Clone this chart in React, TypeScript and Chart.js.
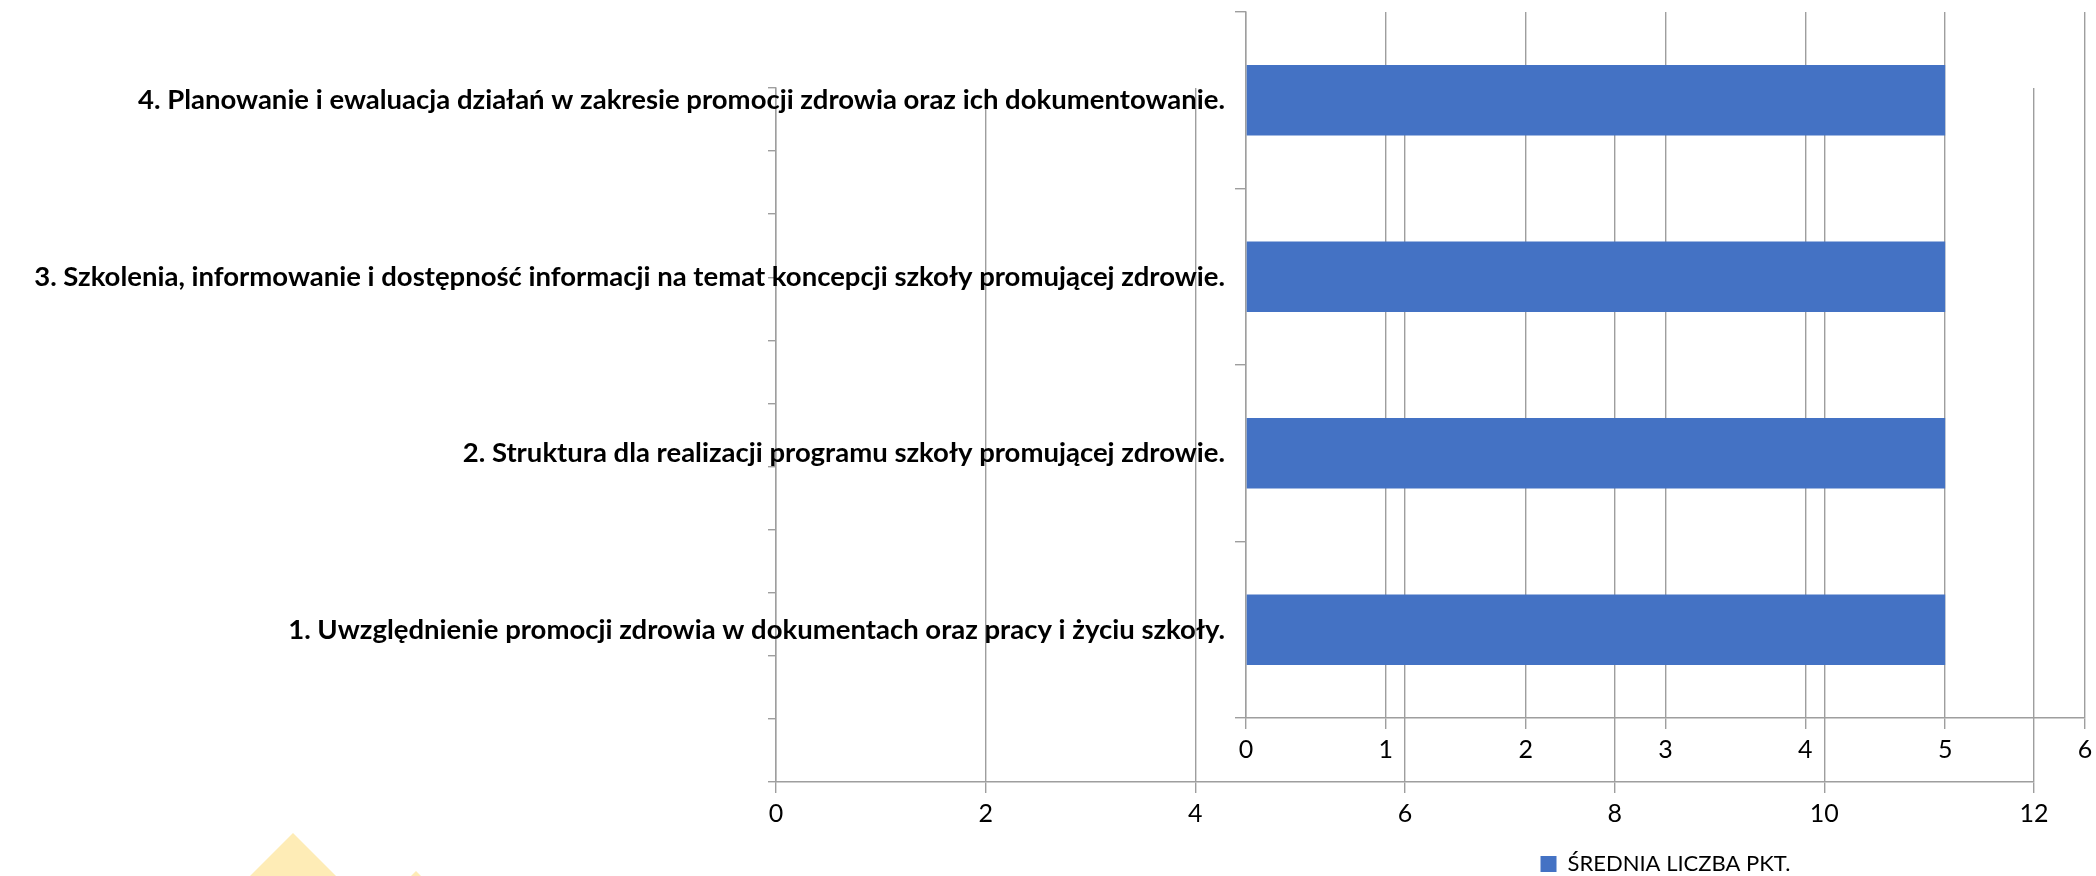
import React, { useEffect, useRef } from 'react';
import { Chart, registerables } from 'chart.js';

Chart.register(...registerables);

const categories = [
  '1. Uwzględnienie promocji zdrowia w dokumentach oraz pracy i życiu szkoły.',
  '2. Struktura dla realizacji programu szkoły promującej zdrowie.',
  '3. Szkolenia, informowanie i dostępność informacji na temat koncepcji szkoły promującej zdrowie.',
  '4. Planowanie i ewaluacja działań w zakresie promocji zdrowia oraz ich dokumentowanie.',
];
const scores = [5, 5, 5, 5];
const seriesName = 'ŚREDNIA LICZBA PKT.';
const frontMax = 6;
const frontStep = 1;

const backCategories = ['', '', '', '', '', '', '', '', '', '', ''];
const backMax = 12;
const backStep = 2;

const GRID = '#9e9e9e';
const BAR = '#4472c4';
const FONT = 'Lato';

const noPad = (s: any) => {
  s.paddingTop = 0;
  s.paddingBottom = 0;
  s.paddingLeft = 0;
  s.paddingRight = 0;
};

export default function App() {
  const backRef = useRef<HTMLCanvasElement>(null);
  const frontRef = useRef<HTMLCanvasElement>(null);

  useEffect(() => {
    document.body.style.margin = '0';

    const back = new Chart(backRef.current!, {
      type: 'bar',
      data: { labels: backCategories, datasets: [{ label: '', data: [], backgroundColor: BAR }] },
      options: {
        animation: false,
        responsive: false,
        devicePixelRatio: 1,
        indexAxis: 'y',
        layout: { padding: { left: 0, top: 88, right: 62, bottom: 0 } },
        plugins: { legend: { display: false }, tooltip: { enabled: false } },
        scales: {
          x: {
            min: 0,
            max: backMax,
            ticks: { stepSize: backStep, color: '#000', font: { family: FONT, size: 25 }, padding: 6 },
            grid: { color: GRID, lineWidth: 1.4, tickLength: 11 },
            border: { color: GRID, width: 1.4 },
            afterFit: (s: any) => { s.height = 94; noPad(s); },
          },
          y: {
            type: 'category',
            offset: true,
            ticks: { display: true },
            grid: { offset: true, drawOnChartArea: false, color: GRID, lineWidth: 1.4, tickLength: 8 },
            border: { color: GRID, width: 1.4 },
            afterFit: (s: any) => { s.width = 776; noPad(s); },
          },
        },
      },
    });

    const front = new Chart(frontRef.current!, {
      type: 'bar',
      data: {
        labels: categories,
        datasets: [{ label: seriesName, data: scores, backgroundColor: BAR, categoryPercentage: 1, barPercentage: 0.4 }],
      },
      options: {
        animation: false,
        responsive: false,
        devicePixelRatio: 1,
        indexAxis: 'y',
        layout: { padding: { left: 0, top: 12, right: 11, bottom: -9 } },
        plugins: {
          tooltip: { enabled: false },
          legend: {
            position: 'bottom',
            fullSize: false,
            labels: {
              color: '#000',
              boxWidth: 16,
              boxHeight: 16,
              padding: 20,
              font: { family: FONT, size: 22 },
            },
          },
        },
        scales: {
          x: {
            min: 0,
            max: frontMax,
            ticks: { stepSize: frontStep, color: '#000', font: { family: FONT, size: 25 }, padding: 6 },
            grid: { color: GRID, lineWidth: 1.4, tickLength: 11 },
            border: { color: GRID, width: 1.4 },
            afterFit: (s: any) => { s.height = 115; noPad(s); },
          },
          y: {
            type: 'category',
            reverse: true,
            offset: true,
            ticks: { color: '#000', font: { family: FONT, size: 27.5, weight: 'bold' }, padding: 10 },
            grid: { offset: true, drawOnChartArea: false, color: GRID, lineWidth: 1.4, tickLength: 11 },
            border: { color: GRID, width: 1.4 },
            afterFit: (s: any) => { s.width = 1246; noPad(s); },
          },
        },
      },
    });

    return () => {
      back.destroy();
      front.destroy();
    };
  }, []);

  return (
    <div style={{ position: 'relative', width: 2096, height: 876, overflow: 'hidden', background: '#fff' }}>
      <div
        style={{
          position: 'absolute', left: 250, top: 833, width: 86, height: 43,
          background: '#feecb6', clipPath: 'polygon(50% 0, 100% 100%, 0 100%)',
        }}
      />
      <div
        style={{
          position: 'absolute', left: 411, top: 871, width: 10, height: 5,
          background: '#feecb6', clipPath: 'polygon(50% 0, 100% 100%, 0 100%)',
        }}
      />
      <canvas ref={backRef} width={2096} height={876} style={{ position: 'absolute', left: 0, top: 0 }} />
      <canvas ref={frontRef} width={2096} height={876} style={{ position: 'absolute', left: 0, top: 0 }} />
    </div>
  );
}
